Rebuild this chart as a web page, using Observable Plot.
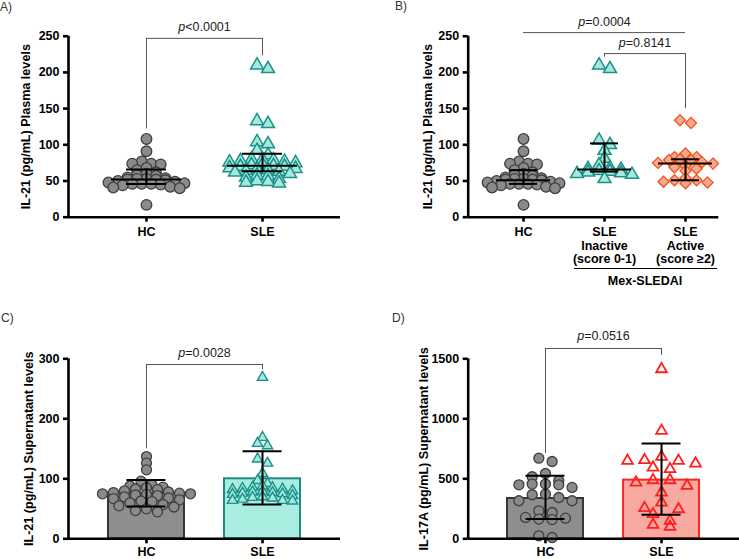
<!DOCTYPE html>
<html><head><meta charset="utf-8">
<script src="https://cdn.jsdelivr.net/npm/d3@7"></script>
<script src="https://cdn.jsdelivr.net/npm/@observablehq/plot@0.6"></script>
<style>
body{margin:0;background:#fff;}
#wrap{position:relative;width:739px;height:559px;overflow:hidden;font-family:"Liberation Sans",Arial,sans-serif;}
.panel{position:absolute;}
.plabel{position:absolute;font-size:12px;color:#333;line-height:14px;}
</style></head><body><div id="wrap"></div>
<script>
// ---------------- data ----------------
const plasmaCats = ["HC", "SLE"];
const hcPlasma = [108, 91, 77, 74, 74, 73, 68, 65, 62, 60, 58, 57, 55, 54, 53, 53, 52, 52, 51, 50, 49, 48, 47, 46, 46, 46, 45, 44, 42, 41, 40, 17];
const slePlasma = [210, 205, 133, 129, 104, 101, 92, 86, 80, 80, 79, 78, 77, 76, 75, 73, 72, 71, 70, 70, 68, 67, 66, 65, 64, 63, 62, 60, 58, 57, 55, 53, 50, 49, 48, 47];
const plasmaMedian = [52, 71];
const plasmaQ1 = [46, 63.5];
const plasmaQ3 = [66, 87.5];

const activityCats = ["HC", "SLE\nInactive\n(score 0-1)", "SLE\nActive\n(score ≥2)"];
const sleInactive = [210, 205, 106, 100, 92, 81, 72, 68, 67, 66, 64, 63, 62, 61, 60, 59, 53];
const sleActive = [134, 130, 88, 83, 83, 80, 79, 79, 76, 75, 74, 71, 69, 67, 64, 54, 51, 51, 49, 48, 47];
const activityMedian = [51, 66, 74];
const activityQ1 = [46, 63, 51];
const activityQ3 = [65, 102, 80];

const supCats = ["HC", "SLE"];
const hcSup21 = [137, 126, 115, 96, 90, 88, 86, 85, 83, 82, 80, 78, 77, 76, 75, 75, 74, 73, 72, 70, 68, 67, 65, 63, 62, 60, 57, 55, 53, 50, 47, 45];
const sleSup21 = [269, 169, 159, 155, 133, 126, 109, 97, 92, 88, 86, 85, 84, 83, 82, 80, 79, 78, 77, 76, 75, 74, 72, 70, 69, 68, 66, 64, 64, 63];
const sup21Mean = [76, 100];
const sup21Low = [54, 57];
const sup21High = [98, 146];

const hcSup17 = [672, 644, 544, 517, 483, 456, 456, 450, 450, 428, 372, 367, 344, 317, 317, 233, 219, 178, 172, 164, 160, 25, 11];
const sleSup17 = [1414, 900, 683, 656, 650, 650, 628, 594, 581, 489, 489, 469, 442, 386, 303, 256, 247, 206, 150, 117, 100];
const sup17Mean = [336, 489];
const sup17Low = [165, 200];
const sup17High = [525, 795];

const ticksPlasma = [0, 50, 100, 150, 200, 250];
const ticksSup21 = [0, 100, 200, 300];
const ticksSup17 = [0, 500, 1000, 1500];

// ---------------- helpers ----------------
const FONT = "'Liberation Sans', Arial, Helvetica, sans-serif";
const GRAY = {fill: "#8a8a8a", stroke: "#3f3f3f"};
const TEAL = {fill: "#a6e9dc", stroke: "#1a918b"};
const ORANGE = {fill: "#f9a98d", stroke: "#f2541f"};
const RED = {fill: "none", stroke: "#ff1f1f"};

// column-scatter layout: values grouped into rows, spread symmetrically
function scatterRows(values, pxY, binPx, spacing) {
  const order = values.map((v, i) => i).sort((a, b) => values[b] - values[a]);
  const rows = [];
  let cur = null;
  for (const i of order) {
    if (cur && (values[cur[0]] - values[i]) * pxY <= binPx) cur.push(i);
    else { cur = [i]; rows.push(cur); }
  }
  const out = new Array(values.length);
  for (const row of rows) {
    const n = row.length;
    const slots = d3.range(n).map(k => (k - (n - 1) / 2) * spacing);
    slots.sort((a, b) => Math.abs(a) - Math.abs(b) || a - b);
    row.forEach((idx, k) => { out[idx] = slots[k]; });
  }
  return out;
}

function panel(cfg) {
  const {left, top, width, height, mL, mR, mT, mB, xDomain, yDomain, yTicks, cats, groups} = cfg;
  const pxX = (width - mL - mR) / (xDomain[1] - xDomain[0]);
  const pxY = (height - mT - mB) / (yDomain[1] - yDomain[0]);
  const marks = [];
  if (cfg.bars) {
    cfg.bars.forEach((b, i) => {
      marks.push(Plot.rect([b], {x1: () => i - cfg.barHalf / pxX, x2: () => i + cfg.barHalf / pxX,
        y1: () => 0, y2: d => d.mean, fill: b.fill, stroke: b.stroke, strokeWidth: 2}));
    });
  }
  groups.forEach((g, i) => {
    const offs = scatterRows(g.values, pxY, g.bin, g.spacing);
    const pts = g.values.map((v, k) => ({x: i + offs[k] / pxX, y: v}));
    marks.push(Plot.dot(pts, {x: "x", y: "y", r: g.r, symbol: g.symbol, fill: g.fill, stroke: g.stroke,
      strokeWidth: g.sw || 1.3}));
  });
  if (cfg.iqr) {
    const s = cats.map((c, i) => ({i, med: cfg.iqr.med[i], q1: cfg.iqr.q1[i], q3: cfg.iqr.q3[i]}));
    const hm = cfg.iqr.medHalf / pxX, hq = cfg.iqr.qHalf / pxX;
    marks.push(Plot.ruleY(s, {y: "med", x1: d => d.i - hm, x2: d => d.i + hm, stroke: "#000", strokeWidth: 2}));
    marks.push(Plot.ruleY(s, {y: "q1", x1: d => d.i - hq, x2: d => d.i + hq, stroke: "#000", strokeWidth: 2}));
    marks.push(Plot.ruleY(s, {y: "q3", x1: d => d.i - hq, x2: d => d.i + hq, stroke: "#000", strokeWidth: 2}));
    marks.push(Plot.ruleX(s, {x: "i", y1: "q1", y2: "q3", stroke: "#000", strokeWidth: 2}));
  }
  if (cfg.sd) {
    const s = cats.map((c, i) => ({i, lo: cfg.sd.lo[i], hi: cfg.sd.hi[i]}));
    const hc = cfg.sd.capHalf / pxX;
    marks.push(Plot.ruleX(s, {x: "i", y1: "lo", y2: "hi", stroke: "#000", strokeWidth: 2}));
    marks.push(Plot.ruleY(s, {y: "lo", x1: d => d.i - hc, x2: d => d.i + hc, stroke: "#000", strokeWidth: 2}));
    marks.push(Plot.ruleY(s, {y: "hi", x1: d => d.i - hc, x2: d => d.i + hc, stroke: "#000", strokeWidth: 2}));
  }
  marks.push(Plot.ruleX([xDomain[0]], {y1: () => yDomain[0], y2: () => yDomain[1], stroke: "#000", strokeWidth: 2.6}));
  marks.push(Plot.ruleY([yDomain[0]], {x1: () => xDomain[0], x2: () => xDomain[1], stroke: "#000", strokeWidth: 2.6}));
  marks.push(Plot.axisY({ticks: yTicks, tickSize: 5, tickPadding: 4, strokeWidth: 2.6, label: null,
    fontSize: 12.5, fontWeight: "bold", fill: "#000", tickFormat: d => String(d)}));
  marks.push(Plot.axisX({ticks: cats.map((c, i) => i), tickFormat: i => cats[i], tickSize: 5,
    tickPadding: cfg.xPad ?? 4, strokeWidth: 2.6, label: null, fontSize: 12.5, fontWeight: "bold",
    fill: "#000", lineHeight: 1.1}));
  marks.push(Plot.text([cfg.title], {x: () => xDomain[0], y: () => (yDomain[0] + yDomain[1]) / 2, text: d => d,
    rotate: -90, dx: -cfg.titleOff, fontWeight: "bold", fontSize: 12.6, textAnchor: "middle", fill: "#000"}));
  (cfg.brackets || []).forEach(b => {
    marks.push(Plot.ruleY([b.y], {x1: () => b.x1, x2: () => b.x2, stroke: "#555", strokeWidth: 1}));
    if (b.leftEnd != null) marks.push(Plot.ruleX([b.x1], {y1: () => b.y, y2: () => b.leftEnd, stroke: "#555", strokeWidth: 1}));
    if (b.rightEnd != null) marks.push(Plot.ruleX([b.x2], {y1: () => b.y, y2: () => b.rightEnd, stroke: "#555", strokeWidth: 1}));
    marks.push(Plot.text([b.label], {x: () => b.lx, y: () => b.ly, text: d => d, fontSize: 12.5,
      fontWeight: "normal", fill: "#222", textAnchor: "middle"}));
  });
  if (cfg.extra) marks.push(...cfg.extra(pxX, pxY));

  const svg = Plot.plot({
    width, height, marginLeft: mL, marginRight: mR, marginTop: mT, marginBottom: mB,
    x: {domain: xDomain}, y: {domain: yDomain},
    style: {fontFamily: FONT, fontSize: "12px", overflow: "visible", background: "transparent", color: "#000"},
    marks
  });
  svg.querySelectorAll("text").forEach(t => {
    if (t.children.length === 0 && /^p[=<]/.test(t.textContent)) {
      const rest = t.textContent.slice(1);
      t.textContent = "";
      const a = document.createElementNS("http://www.w3.org/2000/svg", "tspan");
      a.setAttribute("font-style", "italic"); a.textContent = "p";
      const b = document.createElementNS("http://www.w3.org/2000/svg", "tspan");
      b.textContent = rest;
      t.appendChild(a); t.appendChild(b);
    }
  });
  const div = document.createElement("div");
  div.className = "panel";
  div.style.left = left + "px"; div.style.top = top + "px";
  div.appendChild(svg);
  document.getElementById("wrap").appendChild(div);
}

function label(txt, left, top) {
  const d = document.createElement("div");
  d.className = "plabel"; d.textContent = txt;
  d.style.left = left + "px"; d.style.top = top + "px";
  document.getElementById("wrap").appendChild(d);
}

// ---------------- panels ----------------
panel({
  left: 0, top: 0, width: 370, height: 260, mL: 68, mR: 30, mT: 35.7, mB: 43.3,
  xDomain: [-0.672, 1.672], yDomain: [0, 250], yTicks: ticksPlasma, cats: plasmaCats,
  title: "IL-21 (pg/mL) Plasma levels", titleOff: 43,
  groups: [
    {values: hcPlasma, symbol: "circle", r: 5.3, bin: 5, spacing: 9.5, ...GRAY},
    {values: slePlasma, symbol: "triangle", r: 4.8, bin: 5, spacing: 11, ...TEAL, sw: 1.5}
  ],
  iqr: {med: plasmaMedian, q1: plasmaQ1, q3: plasmaQ3, medHalf: 35, qHalf: 20},
  brackets: [{x1: 0, x2: 1, y: 247, leftEnd: 122, rightEnd: 223, label: "p<0.0001", lx: 0.5, ly: 263}]
});

panel({
  left: 370, top: 0, width: 369, height: 300, mL: 97.7, mR: 20.7, mT: 35.7, mB: 83.3,
  xDomain: [-0.683, 2.411], yDomain: [0, 250], yTicks: ticksPlasma, cats: activityCats,
  title: "IL-21 (pg/mL) Plasma levels", titleOff: 40,
  groups: [
    {values: hcPlasma, symbol: "circle", r: 5.3, bin: 5, spacing: 9, ...GRAY},
    {values: sleInactive, symbol: "triangle", r: 4.8, bin: 5, spacing: 11, ...TEAL, sw: 1.5},
    {values: sleActive, symbol: "diamond2", r: 5, bin: 5, spacing: 11, ...ORANGE, sw: 1.3}
  ],
  iqr: {med: activityMedian, q1: activityQ1, q3: activityQ3, medHalf: 27, qHalf: 14},
  brackets: [
    {x1: 0, x2: 2, y: 255, label: "p=0.0004", lx: 1, ly: 270},
    {x1: 1, x2: 2, y: 226, leftEnd: 221, rightEnd: 150, label: "p=0.8141", lx: 1.5, ly: 241}
  ],
  extra: (pxX) => [
    Plot.ruleY([0], {x1: () => 1 - 30 / pxX, x2: () => 2 + 32 / pxX, dy: 51.3, stroke: "#000", strokeWidth: 1}),
    Plot.text(["Mex-SLEDAI"], {x: () => 1.5, y: () => 0, dy: 63.5, text: d => d, fontWeight: "bold", fontSize: 12.5, fill: "#000"})
  ]
});

panel({
  left: 0, top: 270, width: 370, height: 289, mL: 68, mR: 30, mT: 88.3, mB: 20.7,
  xDomain: [-0.672, 1.672], yDomain: [0, 300], yTicks: ticksSup21, cats: supCats, xPad: 2,
  title: "IL-21 (pg/mL) Supernatant levels", titleOff: 40,
  bars: [{mean: sup21Mean[0], fill: "#8e8e8e", stroke: "#363636"}, {mean: sup21Mean[1], fill: "#a9ede0", stroke: "#1d8a84"}],
  barHalf: 38,
  groups: [
    {values: hcSup21, symbol: "circle", r: 5, bin: 6, spacing: 11, ...GRAY},
    {values: sleSup21, symbol: "triangle", r: 3.8, bin: 5, spacing: 10, ...TEAL, sw: 1.4}
  ],
  sd: {lo: sup21Low, hi: sup21High, capHalf: 19.5},
  brackets: [{x1: 0, x2: 1, y: 290.5, leftEnd: 150, rightEnd: 282, label: "p=0.0028", lx: 0.5, ly: 310.5}]
});

panel({
  left: 370, top: 270, width: 369, height: 289, mL: 97.7, mR: 0, mT: 88.3, mB: 20.7,
  xDomain: [-0.666, 1.672], yDomain: [0, 1500], yTicks: ticksSup17, cats: supCats, xPad: 2,
  title: "IL-17A (pg/mL) Supernatant levels", titleOff: 44,
  bars: [{mean: sup17Mean[0], fill: "#8e8e8e", stroke: "#363636"}, {mean: sup17Mean[1], fill: "#f8aaa1", stroke: "#ff2525"}],
  barHalf: 38,
  groups: [
    {values: hcSup17, symbol: "circle", r: 5, bin: 8, spacing: 13.3, ...GRAY},
    {values: sleSup17, symbol: "triangle", r: 4, bin: 8, spacing: 17, ...RED, sw: 1.8}
  ],
  sd: {lo: sup17Low, hi: sup17High, capHalf: 19.5},
  brackets: [{x1: 0, x2: 1, y: 1586, leftEnd: 711, rightEnd: 1528, label: "p=0.0516", lx: 0.5, ly: 1686}]
});

label("A)", 0, 0);
label("B)", 395, -1);
label("C)", 1, 311);
label("D)", 392, 311);
</script></body></html>
